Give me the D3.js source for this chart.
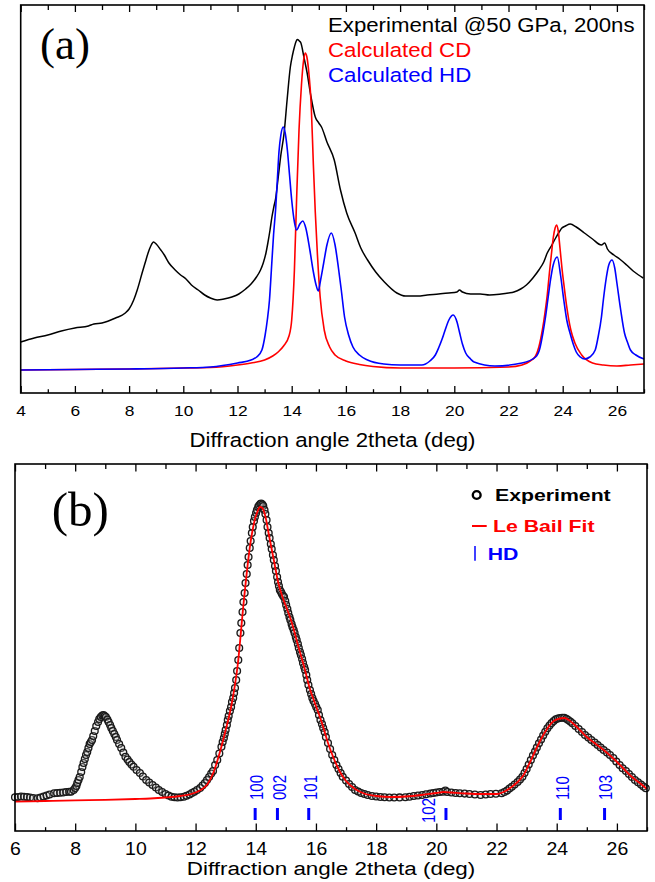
<!DOCTYPE html>
<html><head><meta charset="utf-8">
<script src="https://cdn.jsdelivr.net/npm/d3@7"></script>
<style>html,body{margin:0;padding:0;background:#fff}</style>
</head><body><svg id="c" width="655" height="882"></svg>
<script>
// ---------- Panel (a) data: [2theta (deg), intensity (a.u.)] ----------
const expA = [[4.0,51],[4.5,55],[5.0,58],[5.5,62],[6.0,65],[6.5,67],[6.7,69],[7.0,70],[7.5,75],[7.86,80],[8.0,84],[8.17,93],[8.3,103],[8.48,120],[8.6,131],[8.7,140],[8.8,147],[8.9,151],[9.0,149],[9.17,143],[9.3,138],[9.47,130],[9.7,123],[9.9,118],[10.1,114],[10.3,108],[10.55,103],[10.79,98],[11.0,95],[11.25,93],[11.5,94],[11.79,96],[12.05,99],[12.3,104],[12.5,109],[12.7,116],[12.85,123],[12.95,130],[13.05,140],[13.12,150],[13.2,163],[13.27,176],[13.34,186],[13.41,195],[13.5,215],[13.6,238],[13.72,260],[13.83,293],[13.95,326],[14.03,338],[14.1,346],[14.16,351.5],[14.21,353.5],[14.28,352],[14.34,350],[14.45,336],[14.57,320],[14.7,298],[14.87,276],[15.0,270],[15.1,266],[15.3,251],[15.57,233],[15.8,203],[16.03,180],[16.34,160],[16.55,145],[16.8,133],[17.1,121],[17.42,111],[17.88,100],[18.2,97],[18.65,97],[19.0,98],[19.42,99],[19.8,100],[20.1,101],[20.19,103],[20.3,101],[20.6,99],[20.96,99],[21.3,98],[21.73,99],[22.0,100],[22.2,101],[22.45,104],[22.66,108],[22.9,115],[23.12,123],[23.3,131],[23.43,140],[23.6,148],[23.74,155],[23.87,161],[23.97,165],[24.1,167],[24.28,169],[24.5,166],[24.8,160],[25.1,154],[25.43,148],[25.55,150],[25.65,144],[25.89,138],[26.1,134],[26.36,128],[26.6,122],[26.8,118],[26.97,115]];
const calcCD = [[4.0,23],[6.0,23.5],[8.0,24],[10.0,25],[11.0,25.5],[12.0,28],[12.5,30],[13.0,33],[13.3,37],[13.5,41],[13.7,47],[13.9,57],[14.0,73],[14.1,123],[14.18,193],[14.27,263],[14.36,308],[14.44,333],[14.5,340],[14.56,336],[14.64,318],[14.72,288],[14.8,228],[14.87,181],[14.95,138],[15.05,96],[15.2,63],[15.4,46],[15.6,38],[16.0,32],[16.5,28.5],[17.0,26.5],[18.0,25],[20.0,25],[22.0,26],[22.5,28],[22.8,32],[23.0,37],[23.12,46],[23.25,63],[23.35,81],[23.43,98],[23.52,123],[23.58,138],[23.65,155],[23.72,165],[23.77,168],[23.83,163],[23.9,145],[23.98,123],[24.06,105],[24.14,88],[24.3,63],[24.45,50],[24.7,38],[25.1,30],[25.5,28],[26.0,27],[26.5,28],[27.0,29]];
const calcHD = [[4.0,23],[6.0,23.5],[8.0,24],[10.0,25],[11.0,26],[12.0,30],[12.5,33],[12.71,36],[12.9,43],[13.02,58],[13.1,73],[13.18,93],[13.25,123],[13.33,158],[13.41,185],[13.47,213],[13.53,241],[13.6,258],[13.69,266],[13.76,260],[13.84,243],[13.92,218],[14.0,193],[14.1,171],[14.18,163],[14.3,169],[14.41,172],[14.52,165],[14.67,143],[14.8,121],[14.9,108],[14.98,102],[15.06,112],[15.18,130],[15.3,148],[15.46,160],[15.6,148],[15.72,126],[15.83,103],[15.95,76],[16.1,58],[16.26,46],[16.5,38],[16.8,33],[17.4,29],[18.0,28],[18.8,28],[19.1,32],[19.3,38],[19.42,45],[19.55,54],[19.65,62],[19.8,73],[19.96,78],[20.1,71],[20.19,61],[20.3,49],[20.42,40],[20.6,34],[20.73,31],[21.5,27],[22.5,30],[23.0,36],[23.15,44],[23.27,60],[23.36,75],[23.45,93],[23.55,113],[23.65,128],[23.8,136],[23.92,118],[24.04,93],[24.15,73],[24.28,59],[24.4,48],[24.5,41],[24.65,36],[24.81,34],[25.0,36],[25.2,43],[25.3,55],[25.43,76],[25.5,93],[25.58,110],[25.7,128],[25.82,133],[25.92,125],[26.0,110],[26.14,83],[26.28,60],[26.4,50],[26.5,43],[26.7,38],[27.0,34]];
const legendA = ["Experimental @50 GPa, 200ns","Calculated CD","Calculated HD"];
const ticksA = [4,6,8,10,12,14,16,18,20,22,24,26];

// ---------- Panel (b) data ----------
const expB = [[6.00,33.7],[6.10,34],[6.20,34.5],[6.30,34.3],[6.40,34],[6.50,33.5],[6.60,33],[6.75,32.7],[6.85,33.5],[6.95,34.5],[7.05,35.5],[7.15,36.5],[7.30,37.7],[7.40,38],[7.50,38.2],[7.60,38.5],[7.70,39],[7.80,39.2],[7.86,39.3],[7.95,41],[8.00,43],[8.04,45],[8.07,48],[8.11,51],[8.15,54],[8.20,59],[8.24,64],[8.28,68],[8.32,72],[8.36,76],[8.40,79],[8.44,83],[8.48,87],[8.52,89],[8.56,91],[8.60,95],[8.65,100],[8.70,105],[8.76,109],[8.80,112],[8.85,114],[8.90,115.5],[8.94,116],[8.98,115],[9.02,114],[9.07,111.5],[9.11,109],[9.16,106],[9.20,103],[9.25,100],[9.30,97],[9.35,94],[9.39,91],[9.46,87],[9.53,83],[9.60,78.5],[9.67,74.3],[9.74,71.5],[9.80,69],[9.87,66.5],[9.94,64.3],[10.04,61],[10.15,58],[10.25,54.5],[10.36,51],[10.46,48.5],[10.57,46],[10.68,43.5],[10.78,41],[10.89,39],[11.00,37],[11.10,35.5],[11.20,34.3],[11.30,33.8],[11.40,33.5],[11.50,33.7],[11.61,34.3],[11.70,35.2],[11.80,36.5],[11.88,38],[11.96,39.3],[12.05,41],[12.15,43],[12.23,45.5],[12.31,48],[12.38,51],[12.45,54],[12.52,57.5],[12.58,60],[12.65,66],[12.72,71],[12.79,77.5],[12.86,84.3],[12.90,89],[12.94,93],[12.97,97],[13.00,101],[13.04,106],[13.07,111],[13.10,115],[13.14,120],[13.18,124],[13.21,129],[13.25,133],[13.28,138],[13.31,143],[13.35,151],[13.38,160],[13.42,171],[13.45,183],[13.49,198],[13.52,208],[13.56,219],[13.59,229],[13.63,238],[13.66,248],[13.70,257],[13.73,266],[13.76,274],[13.80,283],[13.83,290],[13.87,298],[13.90,304],[13.94,310],[13.97,314],[14.01,318],[14.04,321],[14.08,324],[14.11,325.5],[14.15,327],[14.18,327.5],[14.22,326.5],[14.25,325],[14.29,321],[14.32,317],[14.36,311],[14.39,304],[14.43,298],[14.46,293],[14.50,287],[14.53,282],[14.57,276],[14.60,271],[14.64,265],[14.67,260],[14.71,254],[14.74,249],[14.77,245],[14.80,241],[14.84,239],[14.87,237],[14.91,235],[14.94,234],[14.98,230],[15.01,226],[15.05,222],[15.08,218],[15.12,214],[15.15,211],[15.19,207],[15.22,204],[15.26,201],[15.29,198],[15.33,194],[15.36,191],[15.40,187],[15.43,183],[15.47,179],[15.50,176],[15.54,172],[15.57,168],[15.61,164],[15.64,161],[15.68,156],[15.71,151],[15.75,146],[15.80,141],[15.84,137],[15.88,133],[15.92,130],[15.97,127],[16.01,124],[16.06,121],[16.10,116],[16.15,111],[16.20,107],[16.24,103],[16.29,99],[16.33,94],[16.40,88],[16.47,82],[16.54,76],[16.61,71],[16.68,66],[16.75,62],[16.82,58],[16.89,54.3],[17.00,50.5],[17.10,47],[17.20,44],[17.30,41],[17.40,39.5],[17.50,38],[17.61,37],[17.72,36],[17.86,35],[18.00,34.5],[18.14,34],[18.28,33.7],[18.44,33.5],[18.60,33.5],[18.78,33.6],[18.97,33.7],[19.11,34.2],[19.25,35],[19.39,35.5],[19.53,36],[19.66,36.8],[19.80,37.5],[19.90,38],[20.00,38.5],[20.11,39],[20.22,39.3],[20.30,40.5],[20.36,39],[20.50,38.5],[20.64,38],[20.78,37.7],[20.94,37.4],[21.10,37],[21.28,36.5],[21.47,36],[21.64,36.5],[21.80,37],[21.98,37.3],[22.17,37.7],[22.26,39],[22.35,40.5],[22.43,42.5],[22.51,44.3],[22.60,46.5],[22.70,49],[22.78,51.5],[22.86,54.3],[22.93,58],[23.00,62],[23.07,66.5],[23.14,71],[23.21,75.5],[23.28,79.5],[23.34,83.5],[23.41,87.7],[23.48,91.5],[23.55,95.5],[23.62,99.2],[23.69,102.7],[23.76,105.5],[23.83,108],[23.90,110],[23.97,111.7],[24.04,112.5],[24.11,113],[24.18,113.2],[24.25,113.3],[24.32,112.2],[24.38,111],[24.45,109.5],[24.52,107.7],[24.62,105],[24.73,102],[24.84,99],[24.94,96],[25.05,93.5],[25.15,91],[25.26,88.5],[25.36,86],[25.46,83.5],[25.56,81],[25.67,78.5],[25.77,76],[25.88,73],[25.98,69.5],[26.09,66],[26.19,62.7],[26.30,60],[26.40,57],[26.50,54],[26.60,51],[26.70,48.7],[26.80,46.5],[26.88,44.5],[26.96,42.7]];
const leBailFit = [[6.0,29.3],[7.0,30],[8.0,30.7],[9.0,31.2],[10.0,32],[10.5,32.5],[11.0,33.5],[11.5,35],[11.8,36.5],[12.0,38.5],[12.2,41.5],[12.4,47],[12.6,59],[12.8,78],[13.0,101],[13.2,127],[13.4,166],[13.6,229],[13.8,283],[13.95,309],[14.05,319],[14.14,324],[14.22,323],[14.3,317],[14.45,294],[14.6,271],[14.75,248],[14.9,233],[15.05,221],[15.2,208],[15.4,186],[15.6,165],[15.8,142],[16.0,125],[16.2,108],[16.4,88],[16.6,72],[16.8,59],[17.0,50],[17.3,42],[17.6,37.5],[18.0,35],[18.5,34],[19.0,34.5],[19.5,36],[20.0,38],[20.25,39],[20.5,38.5],[21.0,37.5],[21.5,37],[22.0,37],[22.3,40],[22.5,44],[22.7,49],[22.9,56],[23.1,68],[23.3,81],[23.5,93],[23.7,103],[23.9,110],[24.1,112.5],[24.25,113],[24.4,111],[24.6,106],[24.8,100],[25.0,94],[25.3,87],[25.6,80],[25.9,72],[26.2,63],[26.5,54],[26.8,47],[27.0,42]];
const hdHkl = ["100","002","101","102","110","103"];
const hdPos = [13.98,14.72,15.76,20.32,24.12,25.59];
const hdLabelPos = [14.03,14.78,15.8,19.74,24.18,25.63];
const hdLabelRow = [0,0,0,1,0,0];
const legendB = ["Experiment","Le Bail Fit","HD"];
const ticksB = [6,8,10,12,14,16,18,20,22,24,26];
const xTitle = "Diffraction angle 2theta (deg)";

// ---------- drawing ----------
const svg = d3.select('#c');
const SANS = "'Liberation Sans', Arial, sans-serif";
const SERIF = "'Liberation Serif', 'Times New Roman', serif";
const RED = "#ff0000", BLUE = "#0000ff";

function stext(g, x, y, str, o) {
  return g.append('text')
    .attr('transform', `translate(${x},${y}) scale(${o.sx||1},1)`)
    .attr('font-family', o.family||SANS).attr('font-size', o.size)
    .attr('font-weight', o.weight||'normal').attr('fill', o.fill||'#000')
    .attr('text-anchor', o.anchor||'start').text(str);
}

function frame(g, x, y, cfg) {
  const [x0,x1] = x.range(), [y1,y0] = y.range();
  const minor = d3.range(Math.ceil(x.domain()[0]), x.domain()[1]+0.001, 1).filter(v => !cfg.ticks.includes(v));
  const bot = g.append('g').attr('transform', `translate(0,${y1})`)
    .call(d3.axisBottom(x).tickValues(cfg.ticks).tickSizeInner(-cfg.major).tickSizeOuter(0).tickPadding(cfg.pad));
  bot.select('.domain').remove();
  bot.selectAll('line').attr('stroke','#000').attr('stroke-width',1.3);
  bot.selectAll('text').attr('font-family',SANS).attr('font-size',cfg.labelSize)
     .attr('fill','#000').attr('transform',`scale(${cfg.labelSx},1)`);
  const botMin = g.append('g').attr('transform', `translate(0,${y1})`)
    .call(d3.axisBottom(x).tickValues(minor).tickSizeInner(-cfg.minor).tickSizeOuter(0).tickFormat(''));
  botMin.select('.domain').remove();
  botMin.selectAll('line').attr('stroke','#000').attr('stroke-width',1.3);
  const top = g.append('g').attr('transform', `translate(0,${y0})`)
    .call(d3.axisTop(x).tickValues(cfg.ticks).tickSizeInner(-cfg.major).tickSizeOuter(0).tickFormat(''));
  top.select('.domain').remove();
  top.selectAll('line').attr('stroke','#000').attr('stroke-width',1.3);
  const topMin = g.append('g').attr('transform', `translate(0,${y0})`)
    .call(d3.axisTop(x).tickValues(minor).tickSizeInner(-cfg.topMinor).tickSizeOuter(0).tickFormat(''));
  topMin.select('.domain').remove();
  topMin.selectAll('line').attr('stroke','#000').attr('stroke-width',1.3);
  g.append('rect').attr('x',x0).attr('y',y0).attr('width',x1-x0).attr('height',y1-y0)
    .attr('fill','none').attr('stroke','#000').attr('stroke-width',1.6);
}

// ===== Panel (a) =====
const gA = svg.append('g');
const xA = d3.scaleLinear().domain([4,27]).range([20.7,644]);
const yA = d3.scaleLinear().domain([0,388]).range([393,5]);
const lineA = d3.line().x(d=>xA(d[0])).y(d=>yA(d[1])).curve(d3.curveMonotoneX);
gA.append('path').datum(expA).attr('d',lineA).attr('fill','none').attr('stroke','#000').attr('stroke-width',1.5);
gA.append('path').datum(calcCD).attr('d',lineA).attr('fill','none').attr('stroke',RED).attr('stroke-width',1.6);
gA.append('path').datum(calcHD).attr('d',lineA).attr('fill','none').attr('stroke',BLUE).attr('stroke-width',1.6);
frame(gA, xA, yA, {ticks:ticksA, major:7, minor:3.8, topMinor:5, pad:12, labelSize:15.4, labelSx:1.13});
stext(gA, 40, 58.7, "(a)", {family:SERIF, size:45});
const legColA = ['#000', RED, BLUE];
legendA.forEach((t,i) => stext(gA, 328, 32.3 + i*25, t, {size:19.5, sx:1.14, fill:legColA[i]}));
stext(gA, 332.5, 447, xTitle, {size:19.5, sx:1.14, anchor:'middle'});

// ===== Panel (b) =====
const gB = svg.append('g');
const xB = d3.scaleLinear().domain([6,27]).range([15,647]);
const yB = d3.scaleLinear().domain([0,367]).range([831,464]);
gB.append('g').selectAll('circle').data(expB).join('circle')
  .attr('cx',d=>xB(d[0])).attr('cy',d=>yB(d[1])).attr('r',3.4)
  .attr('fill','rgba(200,200,200,0.25)').attr('stroke','#1a1a1a').attr('stroke-width',1.35);
const lineB = d3.line().x(d=>xB(d[0])).y(d=>yB(d[1])).curve(d3.curveMonotoneX);
gB.append('path').datum(leBailFit).attr('d',lineB).attr('fill','none').attr('stroke',RED).attr('stroke-width',1.8);
hdPos.forEach((p,i) => {
  gB.append('line').attr('x1',xB(p)).attr('x2',xB(p)).attr('y1',yB(0)-23).attr('y2',yB(0)-11)
    .attr('stroke',BLUE).attr('stroke-width',3);
  const ly = hdLabelRow[i] ? yB(0)-8 : yB(0)-31;
  gB.append('text').attr('transform',`translate(${xB(hdLabelPos[i])},${ly}) scale(1.25,1) rotate(-90)`)
    .attr('dy','0.35em').attr('text-anchor','start').attr('font-family',SANS)
    .attr('font-size',15).attr('fill',BLUE).text(hdHkl[i]);
});
frame(gB, xB, yB, {ticks:ticksB, major:7.5, minor:3.8, topMinor:5, pad:11, labelSize:17.7, labelSx:1.1});
stext(gB, 51.7, 526, "(b)", {family:SERIF, size:49});
stext(gB, 331, 875, xTitle, {size:19, sx:1.18, anchor:'middle'});
gB.append('circle').attr('cx',476.7).attr('cy',495).attr('r',3.9).attr('fill','none').attr('stroke','#000').attr('stroke-width',2.4);
stext(gB, 495, 500.7, legendB[0], {size:17, weight:'bold', sx:1.25});
gB.append('line').attr('x1',472).attr('x2',486.7).attr('y1',526).attr('y2',526).attr('stroke',RED).attr('stroke-width',2);
stext(gB, 493, 532, legendB[1], {size:17, weight:'bold', sx:1.25, fill:RED});
gB.append('line').attr('x1',475).attr('x2',475).attr('y1',546).attr('y2',560.7).attr('stroke',BLUE).attr('stroke-width',1.5);
stext(gB, 487.7, 560, legendB[2], {size:17, weight:'bold', sx:1.25, fill:BLUE});
</script>
</body></html>
